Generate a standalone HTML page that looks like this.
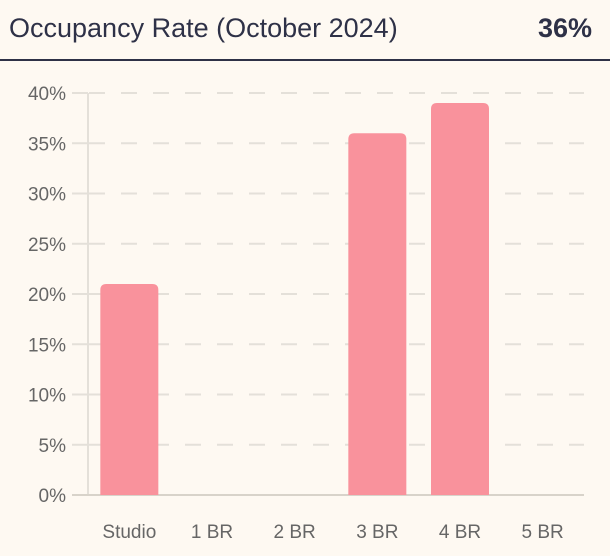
<!DOCTYPE html>
<html><head><meta charset="utf-8"><style>
body{margin:0;width:610px;height:556px;background:#fef9f2;font-family:"Liberation Sans",sans-serif;overflow:hidden}
.hdr{position:absolute;left:0;top:0;width:610px;height:59px;border-bottom:2px solid #2e3147}
.t{position:absolute;left:9px;top:13px;font-size:27px;color:#2e3147}
.v{position:absolute;right:18px;top:13px;font-size:27px;font-weight:bold;color:#2e3147}
svg{position:absolute;left:0;top:0}
</style></head><body>
<div class="hdr">
<div class="t">Occupancy Rate (October 2024)</div>
<div class="v">36%</div>
</div>
<svg id="c" width="610" height="556"></svg>
<script>
const categories=["Studio","1 BR","2 BR","3 BR","4 BR","5 BR"];
const values=[21,0,0,36,39,0];
const ticks=[0,5,10,15,20,25,30,35,40];
const svg=document.getElementById('c');const NS="http://www.w3.org/2000/svg";
const x0=88,x1=584,y0=495,y1=93,ymax=40;
const y=v=>y0-(v/ymax)*(y0-y1);
const bw=(x1-x0)/categories.length;
const xc=i=>x0+bw*(i+0.5);
function el(t,a){const e=document.createElementNS(NS,t);for(const k in a)e.setAttribute(k,a[k]);svg.appendChild(e);return e;}
ticks.forEach(t=>{
const g=el('line',{x1:89,x2:x1,y1:y(t),y2:y(t),stroke:'#e4e0d9','stroke-width':2,'stroke-dasharray':'16 16'});


const tk=el('line',{x1:72,x2:88,y1:y(t),y2:y(t),stroke:'#e4e0d9','stroke-width':2});


const l=el('text',{x:66,y:y(t)+7,'text-anchor':'end','font-size':19,fill:'#666','font-family':'Liberation Sans, sans-serif'});
l.textContent=t+'%';


});
const ax=el('line',{x1:88,x2:88,y1:y1,y2:y0,stroke:'#e4e0d9','stroke-width':2});


const base=el('line',{x1:72,x2:x1,y1:y0,y2:y0,stroke:'#d8d3ca','stroke-width':2});


categories.forEach((c,i)=>{
const w=58,v=values[i];
if(v>0){const top=y(v),h=y0-top,r=6,L=xc(i)-w/2;
const p=el('path',{d:`M${L},${y0}V${top+r}Q${L},${top} ${L+r},${top}H${L+w-r}Q${L+w},${top} ${L+w},${top+r}V${y0}Z`,fill:'#f9929c'});

}
const l=el('text',{x:xc(i),y:538,'text-anchor':'middle','font-size':19,fill:'#666','font-family':'Liberation Sans, sans-serif'});
l.textContent=c;


});
</script>
</body></html>
